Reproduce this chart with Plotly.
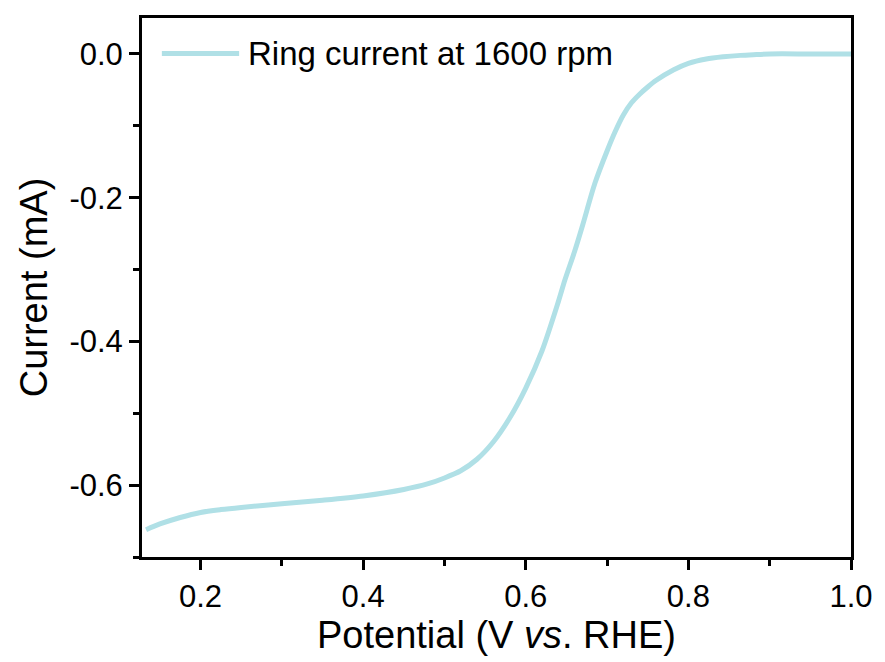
import plotly.graph_objects as go

# Data (Potential in V vs. RHE, ring current in mA)
potential = [0.133, 0.15, 0.175, 0.2, 0.225, 0.25, 0.3, 0.35, 0.4, 0.45, 0.48, 0.5,
             0.52, 0.54, 0.56, 0.58, 0.60, 0.62, 0.64, 0.648, 0.66, 0.67, 0.685,
             0.70, 0.71, 0.72, 0.73, 0.74, 0.75, 0.76, 0.782, 0.80, 0.822, 0.843,
             0.864, 0.88, 0.90, 0.95, 1.0]
ring_current = [-0.662, -0.654, -0.645, -0.638, -0.634, -0.631, -0.626, -0.621, -0.615,
                -0.606, -0.598, -0.590, -0.580, -0.564, -0.540, -0.507, -0.465, -0.413,
                -0.345, -0.315, -0.275, -0.238, -0.180, -0.135, -0.108, -0.085, -0.068,
                -0.056, -0.046, -0.037, -0.022, -0.013, -0.007, -0.004, -0.002, -0.001,
                0.0, 0.0, 0.0]
series_name = "Ring current at 1600 rpm"
x_ticks = [0.2, 0.4, 0.6, 0.8, 1.0]
x_tick_labels = ["0.2", "0.4", "0.6", "0.8", "1.0"]
y_ticks = [0.0, -0.2, -0.4, -0.6]
y_tick_labels = ["0.0", "-0.2", "-0.4", "-0.6"]

LINE_COLOR = "#B0E0E6"
FONT = "Liberation Sans, Arial, sans-serif"

fig = go.Figure()
fig.add_trace(go.Scatter(
    x=potential, y=ring_current, mode="lines", name=series_name,
    line=dict(color=LINE_COLOR, width=5, shape="spline", smoothing=0.8),
    showlegend=False,
))

axis_common = dict(
    showline=True, linecolor="black", linewidth=3, mirror=True,
    ticks="outside", ticklen=10, tickwidth=3, tickcolor="black",
    showgrid=False, zeroline=False,
    tickfont=dict(family=FONT, size=31, color="black"),
)

fig.update_xaxes(
    range=[0.128, 1.0], tickvals=x_ticks, ticktext=x_tick_labels,
    title=dict(text="Potential (V <i>vs</i>. RHE)", font=dict(family=FONT, size=38, color="black"), standoff=9),
    minor=dict(dtick=0.1, tick0=0.1, ticks="outside", ticklen=6, tickwidth=3, tickcolor="black"),
    **axis_common,
)
fig.update_yaxes(
    range=[-0.70, 0.05], tickvals=y_ticks, ticktext=y_tick_labels,
    title=dict(text="Current (mA)", font=dict(family=FONT, size=38, color="black"), standoff=11),
    minor=dict(dtick=0.1, tick0=0.0, ticks="outside", ticklen=6, tickwidth=3, tickcolor="black"),
    **axis_common,
)

# Legend drawn as a sample line plus text, matching the long sample line of the original
fig.add_shape(type="line", xref="paper", yref="paper", x0=0.028, x1=0.137, y0=0.934, y1=0.934,
              line=dict(color=LINE_COLOR, width=5))
fig.add_annotation(xref="paper", yref="paper", x=0.146, y=0.934, xanchor="left", yanchor="middle",
                   text=series_name, showarrow=False, font=dict(family=FONT, size=33, color="black"))

fig.update_layout(
    width=885, height=662,
    margin=dict(l=142, r=26, t=18, b=99),
    paper_bgcolor="white", plot_bgcolor="white",
    font=dict(family=FONT, color="black"),
)

# remove the default page margin so the figure sits at the window's top-left corner
fig.write_html(
    "out.html",
    config={"displayModeBar": False},
    post_script="document.body.style.margin='0';document.body.style.overflow='hidden';",
)
